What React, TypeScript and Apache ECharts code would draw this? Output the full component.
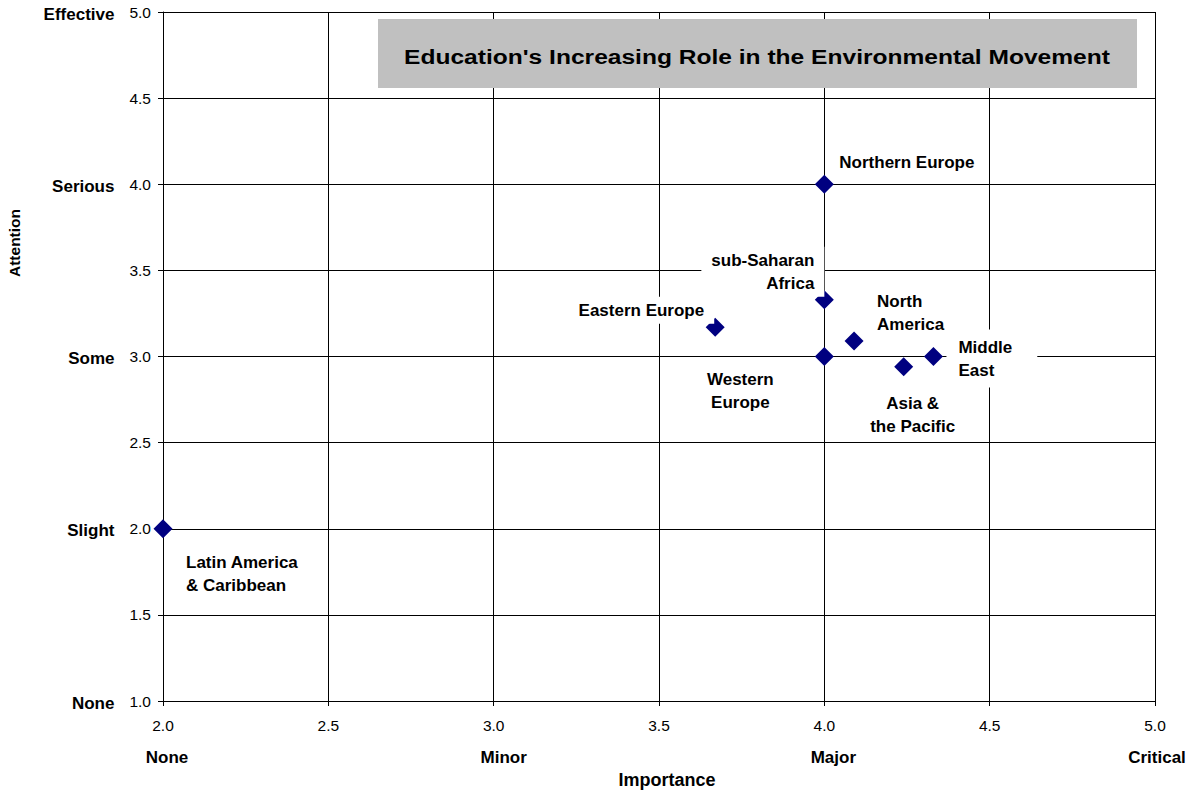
import React, { useEffect, useRef } from "react";
import * as echarts from "echarts";

const regions = [
  "Northern Europe",
  "sub-Saharan\nAfrica",
  "Eastern Europe",
  "Western\nEurope",
  "North\nAmerica",
  "Asia &\nthe Pacific",
  "Middle\nEast",
  "Latin America\n& Caribbean",
];
const importance = [4.0, 4.0, 3.67, 4.0, 4.09, 4.24, 4.33, 2.0];
const attention = [4.0, 3.33, 3.17, 3.0, 3.09, 2.94, 3.0, 2.0];

const attentionWords: Record<number, string> = { 1: "None", 2: "Slight", 3: "Some", 4: "Serious", 5: "Effective" };
const importanceWords: Record<number, string> = { 2: "None", 3: "Minor", 4: "Major", 5: "Critical" };

// label placement relative to each diamond: [dx, dy, align, padding]
const labelPlacement: [number, number, string, number[]][] = [
  [5, -22, "left", [2, 10]],
  [0, -28, "right", [2, 10]],
  [-1, -17, "right", [2, 10]],
  [-84, 34, "center", [2, 10]],
  [13, -28, "left", [2, 10]],
  [9, 48, "center", [2, 10]],
  [13, 2, "left", [6, 25, 6, 12]],
  [13, 45, "left", [2, 10]],
];

const wordShift: Record<string, number> = { None: 8, Minor: 20, Major: 18, Critical: 4 };

export default function App() {
  const ref = useRef<HTMLDivElement>(null);
  useEffect(() => {
    if (!ref.current) return;
    const chart = echarts.init(ref.current, undefined, { renderer: "svg" });
    const font = "Arial, 'Liberation Sans', sans-serif";
    const data = regions.map((name, i) => {
      const [dx, dy, align, padding] = labelPlacement[i];
      return {
        value: [importance[i], attention[i]],
        name,
        label: {
          show: true,
          position: "inside",
          offset: [dx, dy],
          align,
          verticalAlign: "middle",
          padding,
          formatter: name,
        },
      };
    });
    const wordRich: Record<string, any> = {};
    Object.keys(wordShift).forEach((k) => {
      const s = wordShift[k];
      wordRich["w" + k] = {
        fontWeight: "bold",
        fontSize: 17,
        color: "#000",
        fontFamily: font,
        lineHeight: 44,
        padding: s >= 0 ? [0, 0, 0, s] : [0, -s, 0, 0],
      };
    });
    chart.setOption({
      animation: false,
      backgroundColor: "#fff",
      textStyle: { fontFamily: font },
      grid: {
        left: 163,
        right: 38,
        top: 12,
        bottom: 91,
        containLabel: false,
        outerBoundsMode: "none",
      },
      graphic: [
        {
          type: "rect",
          shape: { x: 378, y: 19, width: 759, height: 69 },
          style: { fill: "#c0c0c0" },
          z: 10,
        },
        {
          type: "text",
          x: 757,
          y: 57,
          scaleX: 1.17,
          z: 11,
          style: {
            text: "Education's Increasing Role in the Environmental Movement",
            font: `bold 21px ${font}`,
            fill: "#000",
            align: "center",
            verticalAlign: "middle",
          },
        },
        {
          type: "text",
          x: 14,
          y: 243,
          rotation: Math.PI / 2,
          style: {
            text: "Attention",
            font: `bold 15.5px ${font}`,
            fill: "#000",
            align: "center",
            verticalAlign: "middle",
          },
        },
      ],
      xAxis: {
        type: "value",
        min: 2,
        max: 5,
        interval: 0.5,
        name: "Importance",
        nameLocation: "middle",
        nameGap: 70,
        nameTextStyle: { fontWeight: "bold", fontSize: 18, color: "#000", fontFamily: font, padding: [0, 0, 0, 16] },
        axisLine: { show: true, lineStyle: { color: "#000" } },
        axisTick: { show: true, length: 5, lineStyle: { color: "#000" } },
        splitLine: { show: true, lineStyle: { color: "#000", width: 1 } },
        axisLabel: {
          margin: 14,
          formatter: (v: number) => {
            const w = importanceWords[v];
            const n = `{n|${v.toFixed(1)}}`;
            return w ? `${n}\n{w${w}|${w}}` : n;
          },
          rich: {
            n: { fontSize: 15.5, color: "#000", fontFamily: font, lineHeight: 20 },
            ...wordRich,
          },
        },
      },
      yAxis: {
        type: "value",
        min: 1,
        max: 5,
        interval: 0.5,
        axisLine: { show: true, lineStyle: { color: "#000" } },
        axisTick: { show: true, length: 5, lineStyle: { color: "#000" } },
        splitLine: { show: true, lineStyle: { color: "#000", width: 1 } },
        axisLabel: {
          margin: 12,
          formatter: (v: number) => {
            const w = attentionWords[v];
            const n = `{n|${v.toFixed(1)}}`;
            return w ? `{w|${w}}${n}` : n;
          },
          rich: {
            n: { fontSize: 15.5, color: "#000", fontFamily: font },
            w: {
              fontWeight: "bold",
              fontSize: 17,
              color: "#000",
              fontFamily: font,
              padding: [4, 15, 0, 0],
            },
          },
        },
      },
      series: [
        {
          type: "scatter",
          symbol: "diamond",
          symbolSize: 19,
          itemStyle: { color: "#000080", opacity: 1 },
          label: {
            show: true,
            fontWeight: "bold",
            fontSize: 17,
            color: "#000",
            opacity: 1,
            fontFamily: font,
            lineHeight: 23,
            backgroundColor: "#fff",
          },
          emphasis: { disabled: true },
          data,
          z: 5,
        },
      ],
    });
    return () => chart.dispose();
  }, []);
  return (
    <div
      ref={ref}
      style={{ position: "absolute", left: 0, top: 0, width: 1193, height: 792 }}
    />
  );
}
